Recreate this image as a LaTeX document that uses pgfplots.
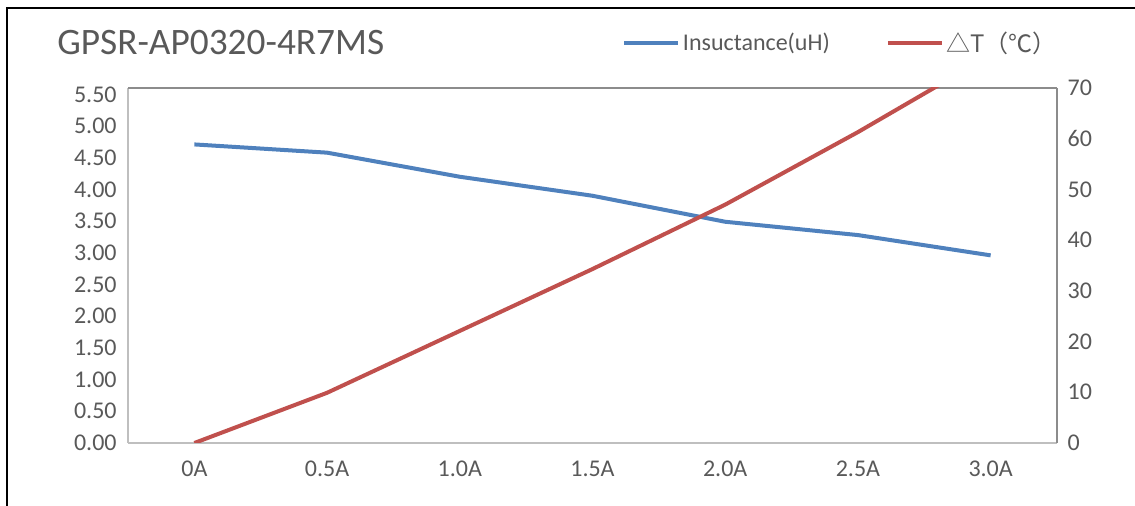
\documentclass[border=0pt]{standalone}
\usepackage{fontspec}
\setmainfont{Carlito}
\newfontfamily\cjk{Noto Sans CJK SC}
\usepackage{pgfplots}
\pgfplotsset{compat=1.18}

\definecolor{indblue}{HTML}{4F81BD}
\definecolor{tred}{HTML}{C0504D}
\definecolor{txtgray}{HTML}{595959}
\definecolor{axlight}{HTML}{BFBFBF}
\definecolor{axdark}{HTML}{8C8C8C}

% 1 px of the reference = 0.75pt
\begin{document}
\begin{tikzpicture}
\useasboundingbox (0,0) rectangle (851.25pt,379.5pt);
\draw[line width=2.2pt] (5.25pt,0) -- (5.25pt,373.5pt) -- (851.25pt,373.5pt);
\node[anchor=west, inner sep=0pt, text=txtgray, font=\fontsize{28}{32}\selectfont] at (42.75pt,347.25pt) {GPSR-AP0320-4R7MS};

\pgfplotsset{
  common/.style={
    scale only axis,
    width=696.75pt, height=266.25pt,
    at={(96pt,47.25pt)}, anchor=south west,
    xmin=-0.5, xmax=6.5,
    major tick length=0pt,
    tick label style={text=txtgray, font=\fontsize{18}{21}\selectfont},
    /pgf/number format/assume math mode=true,
  },
}

\begin{axis}[common,
  axis x line*=bottom, axis y line*=left,
  axis line style={draw=axlight, line width=1.2pt},
  ymin=0, ymax=5.6,
  ytick={0,0.5,...,5.5},
  yticklabel style={/pgf/number format/.cd, fixed, fixed zerofill, precision=2, /tikz/.cd, xshift=-5pt},
  xtick={0,...,6},
  xticklabels={0A,0.5A,1.0A,1.5A,2.0A,2.5A,3.0A},
  xticklabel style={yshift=-10pt},
  legend columns=2,
  legend style={draw=none, fill=none, at={(0.5318,1.1268)}, anchor=west,
    inner sep=0pt, font=\fontsize{18}{21}\selectfont, text=txtgray,
    /tikz/every even column/.append style={column sep=40pt}},
  legend cell align=left,
  legend image code/.code={\draw[#1] (0pt,0pt) -- (40.5pt,0pt);},
]
\addplot[indblue, line width=3pt, line join=round] coordinates {
  (0,4.71) (1,4.58) (2,4.20) (3,3.90) (4,3.49) (5,3.28) (6,2.96)
};
\addlegendentry{Insuctance(uH)}
\addlegendimage{tred, line width=3pt}
\addlegendentry{{\cjk △T（℃）}}
\end{axis}

\begin{axis}[common,
  axis x line*=top, axis y line*=right,
  axis line style={draw=axdark, line width=1.2pt},
  xtick=\empty,
  ymin=0, ymax=70,
  ytick={0,10,...,70},
  yticklabel style={xshift=4.5pt},
]
\addplot[tred, line width=3pt, line join=round] coordinates {
  (0,0) (1,9.9) (2,22.1) (3,34.3) (4,47.0) (5,61.3) (6,76.5)
};
\end{axis}
\end{tikzpicture}
\end{document}
